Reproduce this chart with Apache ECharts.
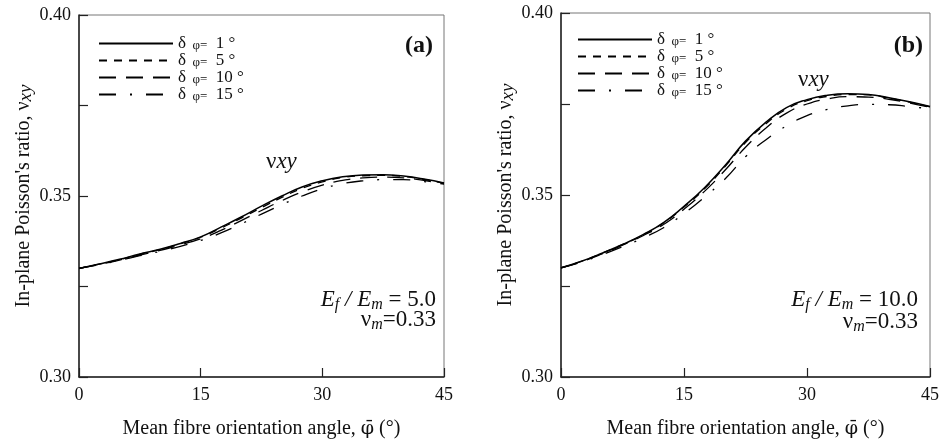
<!DOCTYPE html>
<html>
<head>
<meta charset="utf-8">
<script src="https://cdn.jsdelivr.net/npm/echarts@6/dist/echarts.min.js"></script>
<style>
  html, body { margin: 0; padding: 0; background: #fff; }
  #chart { width: 942px; height: 444px; }
</style>
</head>
<body>
<div id="chart"></div>
<script>
// Mean fibre orientation angle (degrees)
const phi = [0, 2.5, 5, 7.5, 10, 12.5, 15, 17.5, 20, 22.5, 25, 27.5, 30, 32.5, 35, 37.5, 40, 42.5, 45];

// (a) Ef/Em = 5.0 — in-plane Poisson's ratio for each spread δφ
const aD1  = [0.3300, 0.3312, 0.3325, 0.3340, 0.3353, 0.3369, 0.3387, 0.3414, 0.3442, 0.3472, 0.3500, 0.3525, 0.3542, 0.3553, 0.3558, 0.3559, 0.3555, 0.3547, 0.3536];
const aD5  = [0.3300, 0.3312, 0.3324, 0.3339, 0.3352, 0.3368, 0.3386, 0.3411, 0.3439, 0.3468, 0.3496, 0.3521, 0.3539, 0.3551, 0.3556, 0.3557, 0.3554, 0.3546, 0.3535];
const aD10 = [0.3300, 0.3311, 0.3323, 0.3337, 0.3350, 0.3365, 0.3382, 0.3405, 0.3432, 0.3460, 0.3487, 0.3511, 0.3530, 0.3543, 0.3550, 0.3552, 0.3550, 0.3543, 0.3534];
const aD15 = [0.3300, 0.3310, 0.3322, 0.3335, 0.3347, 0.3361, 0.3377, 0.3398, 0.3423, 0.3450, 0.3476, 0.3500, 0.3520, 0.3534, 0.3542, 0.3545, 0.3545, 0.3540, 0.3533];

// (b) Ef/Em = 10.0
const bD1  = [0.3300, 0.3318, 0.3340, 0.3364, 0.3391, 0.3424, 0.3469, 0.3520, 0.3581, 0.3648, 0.3700, 0.3740, 0.3762, 0.3774, 0.3778, 0.3776, 0.3767, 0.3756, 0.3743];
const bD5  = [0.3300, 0.3318, 0.3340, 0.3364, 0.3390, 0.3423, 0.3467, 0.3517, 0.3578, 0.3644, 0.3696, 0.3736, 0.3759, 0.3771, 0.3776, 0.3775, 0.3766, 0.3755, 0.3742];
const bD10 = [0.3300, 0.3317, 0.3338, 0.3362, 0.3388, 0.3419, 0.3461, 0.3510, 0.3568, 0.3631, 0.3684, 0.3725, 0.3750, 0.3764, 0.3770, 0.3769, 0.3763, 0.3753, 0.3741];
const bD15 = [0.3300, 0.3316, 0.3336, 0.3358, 0.3382, 0.3410, 0.3449, 0.3494, 0.3544, 0.3605, 0.3652, 0.3690, 0.3718, 0.3735, 0.3745, 0.3749, 0.3748, 0.3743, 0.3737];

// Spread values and their labels
const spreads = ['1', '5', '10', '15'];
const seriesNames = ['d1', 'd5', 'd10', 'd15'];
const dashes = ['solid', [8, 7], [17, 10], [17, 14, 2, 14]];
const widths = [1.5, 1.3, 1.3, 1.3];

const yTicks = [0.30, 0.35, 0.40];
const xTicks = [0, 15, 30, 45];

const SERIF = 'Liberation Serif, Times New Roman, serif';
const INK = '#111';

function pairs(ys) { return phi.map((x, i) => [x, ys[i]]); }

function xAxisFor(idx) {
  return {
    type: 'value', gridIndex: idx, min: 0, max: 45, interval: 15,
    axisLine: { onZero: false, lineStyle: { color: '#222', width: 1.5 } },
    axisTick: { inside: true, length: 9, lineStyle: { color: '#222', width: 1.2 } },
    axisLabel: {
      margin: 9, fontSize: 18, fontFamily: SERIF, color: INK,
      formatter: v => xTicks.includes(v) ? String(v) : ''
    },
    splitLine: { show: false },
    name: '{n|Mean fibre orientation angle, }{p|\u03C6\u0304}{n| (\u00B0)}',
    nameLocation: 'middle', nameGap: 40,
    nameTextStyle: {
      fontSize: 20, fontFamily: SERIF, color: INK,
      rich: {
        n: { fontSize: 20, fontFamily: SERIF, color: INK, lineHeight: 24 },
        p: { fontSize: 19, fontFamily: 'DejaVu Serif', color: INK, lineHeight: 24 }
      }
    }
  };
}

function yAxisFor(idx) {
  return {
    type: 'value', gridIndex: idx, min: 0.30, max: 0.40, interval: 0.025,
    axisLine: { onZero: false, lineStyle: { color: '#222', width: 1.5 } },
    axisTick: { inside: true, length: 9, lineStyle: { color: '#222', width: 1.2 } },
    axisLabel: {
      margin: 8, fontSize: 18, fontFamily: SERIF, color: INK,
      formatter: v => yTicks.some(t => Math.abs(t - v) < 1e-6) ? v.toFixed(2) : ''
    },
    splitLine: { show: false },
    name: "{n|In-plane Poisson's ratio, \u03BD}{s|xy}",
    nameLocation: 'middle', nameGap: 43, nameRotate: 90,
    nameTextStyle: {
      fontSize: 20, fontFamily: SERIF, color: INK,
      rich: {
        n: { fontSize: 20, fontFamily: SERIF, color: INK, lineHeight: 24 },
        s: { fontSize: 19, fontFamily: SERIF, fontStyle: 'italic', color: INK, lineHeight: 18, verticalAlign: 'bottom' }
      }
    }
  };
}

function legendFor(left, top) {
  return {
    data: seriesNames, orient: 'vertical', left: left, top: top, padding: 0,
    itemWidth: 74, itemHeight: 14, itemGap: 0, selectedMode: false,
    itemStyle: { opacity: 0 },
    formatter: name => '{d|\u03B4}{s|  \u03C6=}{n|  ' + spreads[seriesNames.indexOf(name)] + ' \u00B0}',
    textStyle: {
      color: INK, fontFamily: SERIF, fontSize: 17,
      rich: {
        d: { fontSize: 17, fontFamily: SERIF, color: INK, lineHeight: 17 },
        s: { fontSize: 13, fontFamily: SERIF, color: INK, lineHeight: 11, verticalAlign: 'bottom' },
        n: { fontSize: 17, fontFamily: SERIF, color: INK, lineHeight: 17 }
      }
    }
  };
}

const panelData = [[aD1, aD5, aD10, aD15], [bD1, bD5, bD10, bD15]];
const series = [];
panelData.forEach((group, p) => {
  group.forEach((ys, k) => {
    series.push({
      type: 'line', name: seriesNames[k], xAxisIndex: p, yAxisIndex: p,
      data: pairs(ys), symbol: 'none', symbolSize: 0, showSymbol: false, smooth: true,
      itemStyle: { color: '#000' },
      lineStyle: { color: '#000', width: widths[k], type: dashes[k] },
      emphasis: { disabled: true }
    });
  });
});

const richAnno = {
  i: { fontSize: 23, fontFamily: SERIF, fontStyle: 'italic', fill: INK, lineHeight: 26 },
  s: { fontSize: 16, fontFamily: SERIF, fontStyle: 'italic', fill: INK, lineHeight: 16, verticalAlign: 'bottom' },
  n: { fontSize: 23, fontFamily: SERIF, fill: INK, lineHeight: 26 },
  g: { fontSize: 23, fontFamily: SERIF, fill: INK, lineHeight: 26 }
};

function label(x, y, text, align, extra) {
  return {
    type: 'text', x: x, y: y, silent: true,
    style: Object.assign({
      text: text, rich: richAnno, align: align, verticalAlign: 'middle',
      fill: INK, font: '23px ' + SERIF
    }, extra || {})
  };
}

const graphic = [
  label(433, 46, '(a)', 'right', { font: 'bold 24px ' + SERIF }),
  label(923, 46, '(b)', 'right', { font: 'bold 24px ' + SERIF }),
  label(266, 162, '{g|\u03BD}{i|xy}', 'left'),
  label(798, 80, '{g|\u03BD}{i|xy}', 'left'),
  label(436, 300, '{i|E}{s|f}{i| / E}{s|m}{n| = 5.0}', 'right'),
  label(436, 320, '{g|\u03BD}{s|m}{n|=0.33}', 'right'),
  label(918, 300, '{i|E}{s|f}{i| / E}{s|m}{n| = 10.0}', 'right'),
  label(918, 322, '{g|\u03BD}{s|m}{n|=0.33}', 'right')
];

const chart = echarts.init(document.getElementById('chart'), null, { renderer: 'canvas' });
chart.setOption({
  animation: false,
  backgroundColor: '#fff',
  grid: [
    { left: 79, top: 15, width: 365, height: 363, show: true, borderColor: '#777', borderWidth: 1, backgroundColor: 'transparent' },
    { left: 561, top: 13, width: 369, height: 367, show: true, borderColor: '#777', borderWidth: 1, backgroundColor: 'transparent' }
  ],
  xAxis: [xAxisFor(0), xAxisFor(1)],
  yAxis: [yAxisFor(0), yAxisFor(1)],
  legend: [legendFor(98, 35), legendFor(577, 31)],
  tooltip: { show: false },
  series: series,
  graphic: graphic
});
</script>
</body>
</html>
